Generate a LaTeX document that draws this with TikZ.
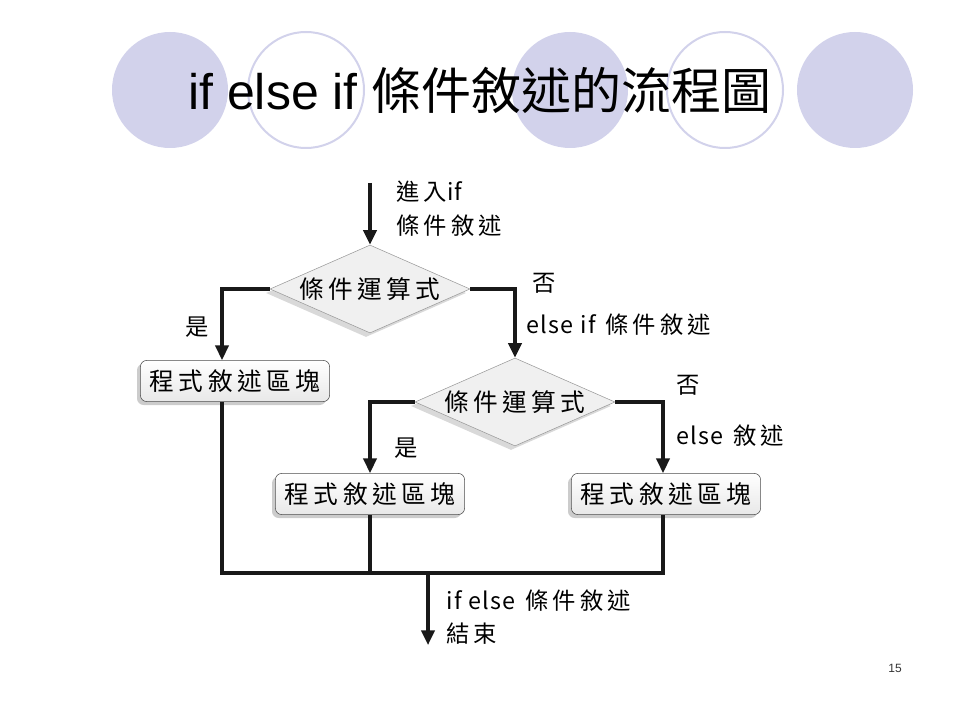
\documentclass[tikz,border=0pt]{standalone}
\usepackage{fontspec}
\setmainfont{Liberation Sans}
\newfontfamily\cjk[LetterSpace=18]{Noto Sans CJK TC}
\newfontfamily\cjkplain{Noto Sans CJK TC}
\newfontfamily\latinlbl[LetterSpace=6]{Noto Sans CJK TC}
\usepackage{tikz}
\usetikzlibrary{shapes.geometric,arrows.meta,shadows,positioning}
\definecolor{discblue}{RGB}{210,210,235}

\begin{document}
\begin{tikzpicture}[x=0.75pt,y=-0.75pt]%
\tikzstyle{bgdisc} = [fill=discblue, draw=none]
\tikzstyle{bgring} = [draw=discblue, line width=1.5pt, fill=white]
\tikzstyle{blockbox} = [draw=black!70, rectangle, rounded corners=5pt,
    top color=white, bottom color=gray!18, minimum width=142pt, minimum height=31pt,
    inner sep=0pt, font=\cjk\fontsize{18.5}{22}\selectfont,
    drop shadow={shadow xshift=-2.5pt, shadow yshift=-2.5pt, opacity=.4}]
\tikzstyle{decision} = [draw=gray!80, diamond, aspect=2.3, fill=gray!12, minimum width=150pt,
    minimum height=66pt, inner sep=0pt, font=\cjk\fontsize{18.5}{22}\selectfont,
    drop shadow={shadow xshift=-3pt, shadow yshift=-3pt, opacity=.3}]
\tikzstyle{flowline} = [line width=2.3pt, black!90]
\tikzstyle{flowarrow} = [flowline, -{Triangle[length=11pt, width=10pt]}]
\tikzstyle{flowlabel} = [font=\cjk\fontsize{17.5}{25}\selectfont, align=left, inner sep=0pt]

\useasboundingbox (0,0) rectangle (960,720);

% background discs
\fill[bgdisc] (170,90) circle (43.5pt);
\draw[bgring] (306,90) circle (43.5pt);
\fill[bgdisc] (570,90) circle (43.5pt);
\draw[bgring] (725,90) circle (43.5pt);
\fill[bgdisc] (855,90) circle (43.5pt);

\node[font=\fontsize{37.5}{40}\selectfont, inner sep=0pt] (title) at (480,90)
    {if else if {\cjkplain 條件敘述的流程圖}};

% decisions and blocks
\node[decision] (cond1) at (370,289) {條件運算式};
\node[decision] (cond2) at (515,402) {條件運算式};
\node[blockbox] (blk1) at (235,381) {程式敘述區塊};
\node[blockbox] (blk2) at (370,494) {程式敘述區塊};
\node[blockbox] (blk3) at (666,494) {程式敘述區塊};

\coordinate (start) at (370,183);
\coordinate (merge) at (428,573);
\coordinate (finish) at (428,645);

% connectors
\draw[flowarrow] (start) -- (cond1.north);
\draw[flowarrow] (cond1.west) -| ([xshift=-9.75pt]blk1.north);
\draw[flowarrow] (cond1.east) -| (cond2.north);
\draw[flowarrow] (cond2.west) -| (blk2.north);
\draw[flowarrow] (cond2.east) -| ([xshift=-2.25pt]blk3.north);
\draw[flowline] ([xshift=-9.75pt]blk1.south) |- ([xshift=-2.25pt]blk3.south |- merge)
    -- ([xshift=-2.25pt]blk3.south);
\draw[flowline] (blk2.south) -- (blk2.south |- merge);
\draw[flowarrow] (merge) -- (finish);

% labels
\node[flowlabel, anchor=north west] (lblenter) at (396,181) {進入{\latinlbl if}\\條件敘述};
\node[flowlabel] (yes1) at (197,327) {是};
\node[flowlabel] (no1) at (544,283) {否};
\node[flowlabel, anchor=west] (lblelseif) at (526,325) {{\latinlbl else if} 條件敘述};
\node[flowlabel] (yes2) at (406,448) {是};
\node[flowlabel] (no2) at (688,385) {否};
\node[flowlabel, anchor=west] (lblelse) at (676,436) {{\latinlbl else} 敘述};
\node[flowlabel, anchor=north west] (lblend) at (446,589) {{\latinlbl if else} 條件敘述\\結束};

\node[font=\fontsize{9}{10}\selectfont, text=black!80] (pagenum) at (895,668) {15};
\end{tikzpicture}
\end{document}
